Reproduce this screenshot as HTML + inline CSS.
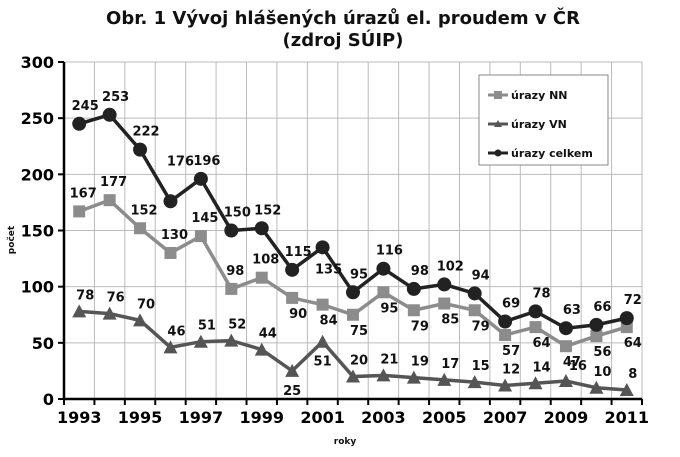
<!DOCTYPE html>
<html><head><meta charset="utf-8"><style>
body{margin:0;background:#fff;}
svg text{font-family:"DejaVu Sans","Liberation Sans",sans-serif;}
</style></head><body>
<svg id="s" width="680" height="452" xmlns="http://www.w3.org/2000/svg">
<text x="343" y="24" font-size="18" font-weight="bold" text-anchor="middle" fill="#111">Obr. 1  Vývoj hlášených úrazů el. proudem v ČR</text>
<text x="343" y="46" font-size="18" font-weight="bold" text-anchor="middle" fill="#111">(zdroj SÚIP)</text>
<text x="345" y="444" font-size="9" font-weight="bold" text-anchor="middle" fill="#111">roky</text>
<text transform="translate(14,240) rotate(-90)" font-size="9" font-weight="bold" text-anchor="middle" fill="#111">počet</text>
<g id="g"></g>
</svg>
<script>
var g=document.getElementById('g'),h='';
var L=64,R=642,T=62,B=399,n=19,w=(R-L)/n;
function X(i){return L+w*(i+0.5);} function Y(v){return B-(v/300)*(B-T);}
for(var v=0;v<=300;v+=50){var y=Y(v);h+='<line x1="'+L+'" x2="'+R+'" y1="'+y+'" y2="'+y+'" stroke="#bbb" stroke-width="1"/>';
h+='<line x1="'+(L-6)+'" x2="'+L+'" y1="'+y+'" y2="'+y+'" stroke="#000" stroke-width="2"/>';
h+='<text x="'+(L-10)+'" y="'+(y+6)+'" font-size="16" font-weight="bold" text-anchor="end">'+v+'</text>';}
for(var i=0;i<=n;i++){var x=L+w*i;h+='<line x1="'+x+'" x2="'+x+'" y1="'+T+'" y2="'+B+'" stroke="#bbb" stroke-width="1"/>';
h+='<line x1="'+x+'" x2="'+x+'" y1="'+B+'" y2="'+(B+6)+'" stroke="#000" stroke-width="2"/>';}
for(var i=0;i<n;i+=2)h+='<text x="'+X(i)+'" y="'+(B+24)+'" font-size="16" font-weight="bold" text-anchor="middle">'+(1993+i)+'</text>';
h+='<line x1="'+L+'" x2="'+L+'" y1="'+T+'" y2="'+B+'" stroke="#000" stroke-width="2.5"/>';
h+='<line x1="'+L+'" x2="'+R+'" y1="'+B+'" y2="'+B+'" stroke="#000" stroke-width="2.5"/>';
var NN=[167,177,152,130,145,98,108,90,84,75,95,79,85,79,57,64,47,56,64];
var VN=[78,76,70,46,51,52,44,25,51,20,21,19,17,15,12,14,16,10,8];
var C=[245,253,222,176,196,150,152,115,135,95,116,98,102,94,69,78,63,66,72];
function line(d,c){var p=d.map(function(v,i){return X(i)+','+Y(v)}).join(' ');return '<polyline points="'+p+'" fill="none" stroke="'+c+'" stroke-width="3.5"/>';}
h+=line(VN,'#555')+line(NN,'#8c8c8c')+line(C,'#222');
VN.forEach(function(v,i){var x=X(i),y=Y(v);h+='<polygon points="'+(x-7)+','+(y+6)+' '+(x+7)+','+(y+6)+' '+x+','+(y-7)+'" fill="#555"/>';});
NN.forEach(function(v,i){var x=X(i),y=Y(v);h+='<rect x="'+(x-6)+'" y="'+(y-6)+'" width="12" height="12" fill="#8c8c8c"/>';});
C.forEach(function(v,i){var x=X(i),y=Y(v);h+='<circle cx="'+x+'" cy="'+y+'" r="7" fill="#222"/>';});
function lab(d,off){d.forEach(function(v,i){var o=off(i);h+='<text x="'+(X(i)+o[0])+'" y="'+(Y(v)+o[1])+'" font-size="13" font-weight="bold" text-anchor="middle" fill="#111">'+v+'</text>';});}
lab(C,function(i){if(i==3)return[10,-36];if(i==8)return[6,26];return[6,-14];});
lab(NN,function(i){return i<7?[4,-14]:[6,20];});
lab(VN,function(i){if(i==7||i==8)return[0,24];if(i==16)return[12,-11];return[6,-12];});
h+='<rect x="479" y="75" width="129" height="90" fill="#fff" stroke="#888" stroke-width="1"/>';
var lg=[['úrazy NN','#8c8c8c','s'],['úrazy VN','#555','t'],['úrazy celkem','#222','c']];
lg.forEach(function(e,k){var y=95+k*29;h+='<line x1="488" x2="508" y1="'+y+'" y2="'+y+'" stroke="'+e[1]+'" stroke-width="3"/>';
if(e[2]=='s')h+='<rect x="494" y="'+(y-4)+'" width="8" height="8" fill="'+e[1]+'"/>';
if(e[2]=='t')h+='<polygon points="494,'+(y+3)+' 502,'+(y+3)+' 498,'+(y-4)+'" fill="'+e[1]+'"/>';
if(e[2]=='c')h+='<circle cx="498" cy="'+y+'" r="3.5" fill="'+e[1]+'"/>';
h+='<text x="511" y="'+(y+4)+'" font-size="11" font-weight="bold" fill="#111">'+e[0]+'</text>';});
g.innerHTML=h;
</script>
</body></html>
